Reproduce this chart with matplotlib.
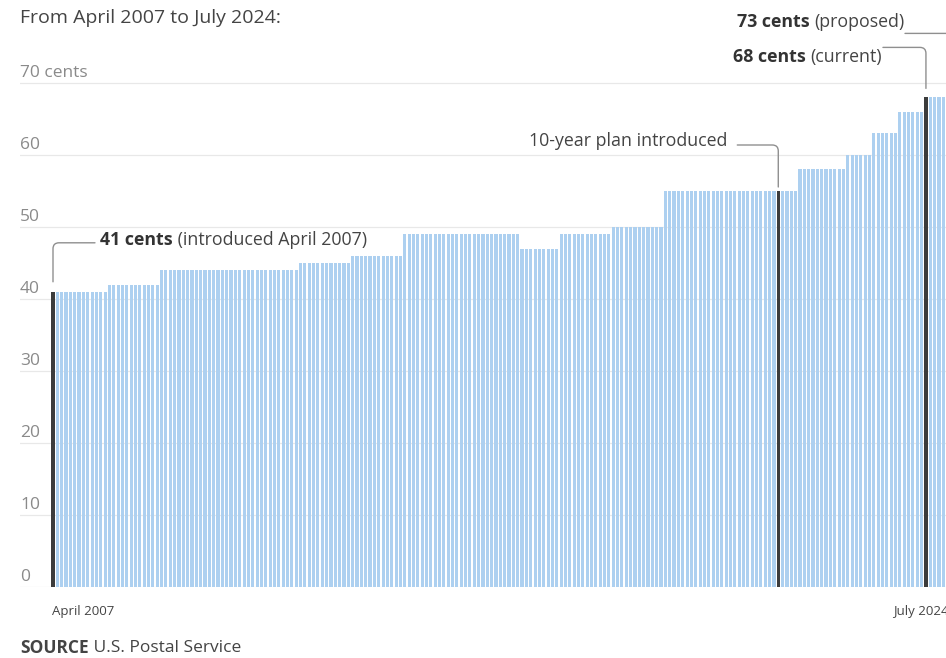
import numpy as np
import pandas as pd
from matplotlib import pyplot as plt
from matplotlib import transforms

# Forever stamp price (cents), month each price took effect
price_starts = ["2007-04", "2008-05", "2009-05", "2012-01", "2013-01", "2014-01",
                "2016-04", "2017-01", "2018-01", "2019-01", "2021-08", "2022-07",
                "2023-01", "2023-07", "2024-01", "2024-07"]
prices = [41, 42, 44, 45, 46, 49, 47, 49, 50, 55, 58, 60, 63, 66, 68, 73]
first_month = "2007-04"
last_month = "2024-07"
highlight_months = ["2007-04", "2021-03", "2024-01"]

yticks = [0, 10, 20, 30, 40, 50, 60, 70]
ytick_labels = ["0", "10", "20", "30", "40", "50", "60", "70 cents"]

FONT = "Open Sans"
plt.rcParams["font.family"] = [FONT, "DejaVu Sans"]


def main():
    months = pd.period_range(first_month, last_month, freq="M")
    starts = pd.PeriodIndex(price_starts, freq="M")
    idx = np.searchsorted(starts.asi8, months.asi8, side="right") - 1
    values = np.array(prices)[idx]
    x = np.arange(len(months))
    hl = [months.get_loc(pd.Period(m, freq="M")) for m in highlight_months]
    colors = ["#3c3c3c" if i in hl else "#add0f0" for i in x]

    fig = plt.figure(figsize=(9.46, 6.58), dpi=100)
    W, H = 946, 658
    pitch = 4.343
    x0_px = 53
    left_px = 20
    xmin = -(x0_px - left_px) / pitch
    xmax = len(months) - 0.5
    right_px = x0_px + xmax * pitch
    y0_px = H - 587
    unit = 7.2
    ymax = 80
    ax = fig.add_axes([left_px / W, y0_px / H, (right_px - left_px) / W, ymax * unit / H])
    ax.set_xlim(xmin, xmax)
    ax.set_ylim(0, ymax)

    ax.bar(x, values, width=0.72, color=colors, zorder=2, linewidth=0)

    ax.set_yticks(yticks)
    ax.yaxis.grid(True, color="#e8e8e8", linewidth=0.9, zorder=0)
    ax.tick_params(left=False, bottom=False, labelleft=False, labelbottom=False)
    for s in ax.spines.values():
        s.set_visible(False)

    ytr = transforms.offset_copy(ax.transData, fig=fig, x=0, y=6, units="dots")
    for v, lab in zip(yticks, ytick_labels):
        ax.text(xmin, v, lab, transform=ytr, ha="left", va="baseline",
                fontsize=12.5, color="#8a8a8a")

    # x end labels
    xtr = transforms.offset_copy(ax.transData, fig=fig, x=0, y=-24, units="dots")
    ax.text(x[0] - 0.3, 0, "April 2007", transform=xtr, ha="left", va="center",
            fontsize=9.5, color="#444444")
    xtr2 = transforms.offset_copy(ax.transData, fig=fig, x=-5, y=-24, units="dots")
    ax.text(x[-1] + 0.3, 0, "July 2024", transform=xtr2, ha="right", va="center",
            fontsize=9.5, color="#444444")

    fs = 12.8

    def callout(i, v, line_off, gap, text_off, bold, rest, text_left):
        ax.annotate("", xy=(i, v), xytext=line_off, textcoords="offset pixels",
                    annotation_clip=False,
                    arrowprops=dict(arrowstyle="-", color="#8f8f8f", lw=1.0,
                                    shrinkA=0, shrinkB=gap * 0.72,
                                    connectionstyle="angle,angleA=0,angleB=90,rad=6"))
        if text_left:
            t1 = ax.annotate(bold, xy=(i, v), xytext=text_off, textcoords="offset pixels",
                             ha="left", va="center", fontsize=fs, fontweight="bold",
                             color="#333333", annotation_clip=False)
            ax.annotate(" " + rest, xy=(1, 0), xycoords=t1, ha="left", va="bottom",
                        fontsize=fs, color="#444444")
        else:
            t2 = ax.annotate(rest, xy=(i, v), xytext=text_off, textcoords="offset pixels",
                             ha="right", va="center", fontsize=fs, color="#444444",
                             annotation_clip=False)
            if bold:
                ax.annotate(bold + " ", xy=(0, 0), xycoords=t2, ha="right", va="bottom",
                            fontsize=fs, fontweight="bold", color="#333333")

    callout(hl[0], values[hl[0]], (42, 49), 10, (47, 52),
            "41 cents", "(introduced April 2007)", True)
    callout(hl[1], values[hl[1]], (-41, 46), 4, (-51, 50),
            "", "10-year plan introduced", False)
    callout(hl[2], values[hl[2]], (-43, 50), 9, (-44, 40),
            "68 cents", "(current)", False)
    callout(x[-1], values[-1], (-47, 28), 4, (-48, 39),
            "73 cents", "(proposed)", False)

    fig.text(left_px / W, 1 - 18 / H, "From April 2007 to July 2024:", ha="left",
             va="center", fontsize=14, color="#444444")
    t = fig.text(left_px / W, 1 - 648 / H, "SOURCE", ha="left", va="center",
                 fontsize=12.5, fontweight="bold", color="#444444")
    fig.canvas.draw()
    bb = t.get_window_extent()
    fig.text(bb.x1 / W, 1 - 648 / H, " U.S. Postal Service", ha="left", va="center",
             fontsize=12.5, color="#444444")

    fig.savefig("out.png", dpi=100)


if __name__ == "__main__":
    main()
